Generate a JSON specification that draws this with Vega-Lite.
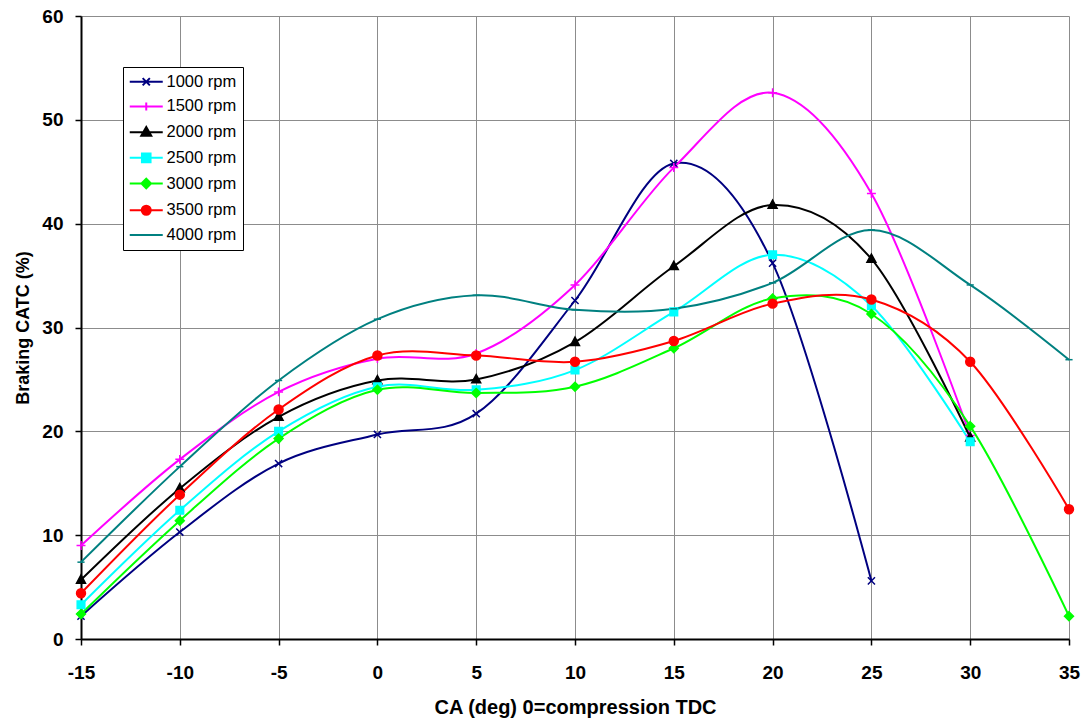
{
  "$schema": "https://vega.github.io/schema/vega-lite/v6.json",
  "width": 988,
  "height": 623,
  "autosize": {"type": "none"},
  "padding": {"left": 81, "top": 16, "right": 23, "bottom": 86},
  "background": "white",
  "config": {"view": {"stroke": null}, "font": "Liberation Sans"},
  "data": {
    "values": [
      {"rpm": "1000 rpm", "ca": -15, "v": 2.2}, {"rpm": "1000 rpm", "ca": -10, "v": 10.3}, {"rpm": "1000 rpm", "ca": -5, "v": 16.9}, {"rpm": "1000 rpm", "ca": 0, "v": 19.7}, {"rpm": "1000 rpm", "ca": 5, "v": 21.7}, {"rpm": "1000 rpm", "ca": 10, "v": 32.6}, {"rpm": "1000 rpm", "ca": 15, "v": 45.8}, {"rpm": "1000 rpm", "ca": 20, "v": 36.2}, {"rpm": "1000 rpm", "ca": 25, "v": 5.6},
      {"rpm": "1500 rpm", "ca": -15, "v": 9.0}, {"rpm": "1500 rpm", "ca": -10, "v": 17.3}, {"rpm": "1500 rpm", "ca": -5, "v": 23.8}, {"rpm": "1500 rpm", "ca": 0, "v": 27.0}, {"rpm": "1500 rpm", "ca": 5, "v": 27.5}, {"rpm": "1500 rpm", "ca": 10, "v": 34.1}, {"rpm": "1500 rpm", "ca": 15, "v": 45.4}, {"rpm": "1500 rpm", "ca": 20, "v": 52.6}, {"rpm": "1500 rpm", "ca": 25, "v": 42.9}, {"rpm": "1500 rpm", "ca": 30, "v": 19.6},
      {"rpm": "2000 rpm", "ca": -15, "v": 5.7}, {"rpm": "2000 rpm", "ca": -10, "v": 14.5}, {"rpm": "2000 rpm", "ca": -5, "v": 21.4}, {"rpm": "2000 rpm", "ca": 0, "v": 24.9}, {"rpm": "2000 rpm", "ca": 5, "v": 25.0}, {"rpm": "2000 rpm", "ca": 10, "v": 28.6}, {"rpm": "2000 rpm", "ca": 15, "v": 35.9}, {"rpm": "2000 rpm", "ca": 20, "v": 41.8}, {"rpm": "2000 rpm", "ca": 25, "v": 36.6}, {"rpm": "2000 rpm", "ca": 30, "v": 19.4},
      {"rpm": "2500 rpm", "ca": -15, "v": 3.3}, {"rpm": "2500 rpm", "ca": -10, "v": 12.4}, {"rpm": "2500 rpm", "ca": -5, "v": 20.0}, {"rpm": "2500 rpm", "ca": 0, "v": 24.3}, {"rpm": "2500 rpm", "ca": 5, "v": 24.0}, {"rpm": "2500 rpm", "ca": 10, "v": 25.9}, {"rpm": "2500 rpm", "ca": 15, "v": 31.5}, {"rpm": "2500 rpm", "ca": 20, "v": 37.0}, {"rpm": "2500 rpm", "ca": 25, "v": 32.1}, {"rpm": "2500 rpm", "ca": 30, "v": 19.0},
      {"rpm": "3000 rpm", "ca": -15, "v": 2.4}, {"rpm": "3000 rpm", "ca": -10, "v": 11.4}, {"rpm": "3000 rpm", "ca": -5, "v": 19.3}, {"rpm": "3000 rpm", "ca": 0, "v": 24.0}, {"rpm": "3000 rpm", "ca": 5, "v": 23.7}, {"rpm": "3000 rpm", "ca": 10, "v": 24.3}, {"rpm": "3000 rpm", "ca": 15, "v": 28.0}, {"rpm": "3000 rpm", "ca": 20, "v": 32.8}, {"rpm": "3000 rpm", "ca": 25, "v": 31.3}, {"rpm": "3000 rpm", "ca": 30, "v": 20.5}, {"rpm": "3000 rpm", "ca": 35, "v": 2.2},
      {"rpm": "3500 rpm", "ca": -15, "v": 4.4}, {"rpm": "3500 rpm", "ca": -10, "v": 13.9}, {"rpm": "3500 rpm", "ca": -5, "v": 22.1}, {"rpm": "3500 rpm", "ca": 0, "v": 27.3}, {"rpm": "3500 rpm", "ca": 5, "v": 27.3}, {"rpm": "3500 rpm", "ca": 10, "v": 26.7}, {"rpm": "3500 rpm", "ca": 15, "v": 28.7}, {"rpm": "3500 rpm", "ca": 20, "v": 32.3}, {"rpm": "3500 rpm", "ca": 25, "v": 32.7}, {"rpm": "3500 rpm", "ca": 30, "v": 26.7}, {"rpm": "3500 rpm", "ca": 35, "v": 12.5},
      {"rpm": "4000 rpm", "ca": -15, "v": 7.4}, {"rpm": "4000 rpm", "ca": -10, "v": 16.6}, {"rpm": "4000 rpm", "ca": -5, "v": 24.9}, {"rpm": "4000 rpm", "ca": 0, "v": 30.8}, {"rpm": "4000 rpm", "ca": 5, "v": 33.1}, {"rpm": "4000 rpm", "ca": 10, "v": 31.7}, {"rpm": "4000 rpm", "ca": 15, "v": 31.8}, {"rpm": "4000 rpm", "ca": 20, "v": 34.3}, {"rpm": "4000 rpm", "ca": 25, "v": 39.4}, {"rpm": "4000 rpm", "ca": 30, "v": 34.1}, {"rpm": "4000 rpm", "ca": 35, "v": 26.9}
    ]
  },
  "encoding": {
    "x": {
      "field": "ca", "type": "quantitative",
      "scale": {"domain": [-15, 35], "nice": false, "zero": false},
      "title": "CA (deg) 0=compression TDC",
      "axis": {
        "values": [-15, -10, -5, 0, 5, 10, 15, 20, 25, 30, 35],
        "labelExpr": "'' + datum.value",
        "grid": true, "gridColor": "#8c8c8c", "gridWidth": 1,
        "domainColor": "black", "domainWidth": 2,
        "tickColor": "black", "tickWidth": 1.5, "tickSize": 6,
        "labelFont": "Liberation Sans", "labelFontWeight": "bold", "labelFontSize": 19, "labelColor": "black", "labelPadding": 18,
        "labelFlush": false, "labelOverlap": false,
        "titleFont": "Liberation Sans", "titleFontWeight": "bold", "titleFontSize": 20, "titleColor": "black", "titlePadding": 15
      }
    },
    "y": {
      "field": "v", "type": "quantitative",
      "scale": {"domain": [0, 60], "nice": false},
      "title": "Braking CATC (%)",
      "axis": {
        "values": [0, 10, 20, 30, 40, 50, 60],
        "grid": true, "gridColor": "#8c8c8c", "gridWidth": 1,
        "domainColor": "black", "domainWidth": 2,
        "tickColor": "black", "tickWidth": 1.5, "tickSize": 6,
        "labelFont": "Liberation Sans", "labelFontWeight": "bold", "labelFontSize": 19, "labelColor": "black", "labelPadding": 12,
        "labelFlush": false, "labelOverlap": false,
        "titleFont": "Liberation Sans", "titleFontWeight": "bold", "titleFontSize": 18, "titleColor": "black", "titlePadding": 9
      }
    }
  },
  "layer": [
    {
      "mark": {"type": "line", "interpolate": "cardinal", "tension": 0, "strokeWidth": 2},
      "encoding": {
        "color": {
          "field": "rpm", "type": "nominal",
          "scale": {
            "domain": ["1000 rpm", "1500 rpm", "2000 rpm", "2500 rpm", "3000 rpm", "3500 rpm", "4000 rpm"],
            "range": ["#000080", "#FF00FF", "#000000", "#00FFFF", "#00FF00", "#FF0000", "#008080"]
          },
          "legend": {
            "orient": "none", "legendX": 42, "legendY": 51, "title": null,
            "strokeColor": "black", "fillColor": "white", "padding": 6.5,
            "labelFont": "Liberation Sans", "labelFontSize": 16.5, "labelColor": "black", "labelOffset": 12,
            "rowPadding": 7.7, "symbolSize": 4, "symbolOffset": 8.5, "symbolStrokeWidth": 2,
            "encode": {
              "symbols": {
                "update": {
                  "shape": {"signal": "datum.value==='1000 rpm' ? 'M-16.5,0L16.5,0M-3.6,-3.6L3.6,3.6M-3.6,3.6L3.6,-3.6' : datum.value==='1500 rpm' ? 'M-16.5,0L16.5,0M0,-4L0,4' : datum.value==='2000 rpm' ? 'M-16.5,0L16.5,0M0,-5.2L5,3.6L-5,3.6Z' : datum.value==='2500 rpm' ? 'M-16.5,0L16.5,0M-4.3,-4.3L4.3,-4.3L4.3,4.3L-4.3,4.3Z' : datum.value==='3000 rpm' ? 'M-16.5,0L16.5,0M0,-4.8L4.8,0L0,4.8L-4.8,0Z' : datum.value==='3500 rpm' ? 'M-16.5,0L16.5,0M4.5,0A4.5,4.5 0 1 1 -4.5,0A4.5,4.5 0 1 1 4.5,0Z' : 'M-16.5,0L16.5,0M-3.6,0L3.6,0'"},
                  "fill": {"signal": "scale('color', datum.value)"},
                  "stroke": {"signal": "scale('color', datum.value)"},
                  "strokeWidth": {"value": 2},
                  "size": {"value": 4}
                }
              }
            }
          }
        }
      }
    },
    {
      "mark": {"type": "point", "filled": true, "size": 80, "strokeWidth": 1.5, "opacity": 1},
      "encoding": {
        "color": {"field": "rpm", "type": "nominal", "legend": null},
        "stroke": {
          "field": "rpm", "type": "nominal", "legend": null,
          "scale": {
            "domain": ["1000 rpm", "1500 rpm", "2000 rpm", "2500 rpm", "3000 rpm", "3500 rpm", "4000 rpm"],
            "range": ["#000080", "#FF00FF", "#000000", "#00FFFF", "#00FF00", "#FF0000", "#008080"]
          }
        },
        "shape": {
          "field": "rpm", "type": "nominal", "legend": null,
          "scale": {
            "domain": ["1000 rpm", "1500 rpm", "2000 rpm", "2500 rpm", "3000 rpm", "3500 rpm", "4000 rpm"],
            "range": ["M-0.8,-0.8L0.8,0.8M-0.8,0.8L0.8,-0.8", "M-1,0L1,0M0,-1L0,1", "M0,-1.1L1,0.75L-1,0.75Z", "M-0.85,-0.85L0.85,-0.85L0.85,0.85L-0.85,0.85Z", "M0,-1L1,0L0,1L-1,0Z", "circle", "M-0.8,0L0.8,0"]
          }
        }
      }
    }
  ],
  "resolve": {"scale": {"shape": "independent", "stroke": "independent"}, "legend": {"shape": "independent", "stroke": "independent"}}
}
